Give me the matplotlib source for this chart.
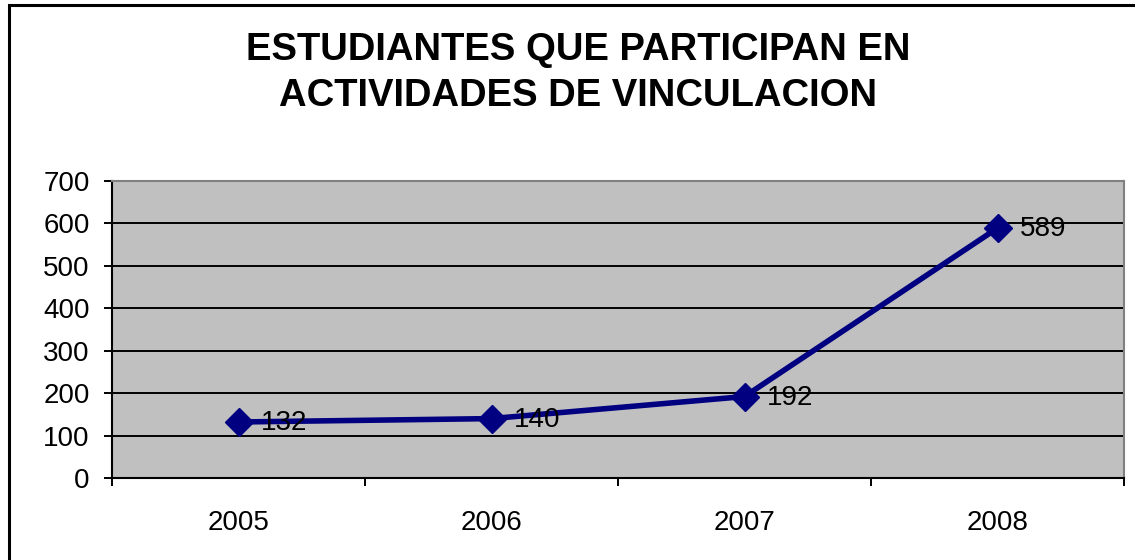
import matplotlib
matplotlib.use("Agg")
import matplotlib.pyplot as plt
from matplotlib.patches import Rectangle

years = ["2005", "2006", "2007", "2008"]
students = [132, 140, 192, 589]
y_ticks = [0, 100, 200, 300, 400, 500, 600, 700]
title = "ESTUDIANTES QUE PARTICIPAN EN\nACTIVIDADES DE VINCULACION"

plt.rcParams['font.family'] = ['Liberation Sans', 'DejaVu Sans']

fig = plt.figure(figsize=(11.35, 5.6), dpi=100)
fig.patch.set_facecolor("white")
# outer chart frame (left/top visible; right/bottom beyond the canvas)
fig.patches.append(Rectangle((9/1135, -0.05), 1.2, 1 - 5/560 + 0.05,
                             transform=fig.transFigure, fill=False,
                             edgecolor="black", linewidth=2.2))

ax = fig.add_axes([112/1135, 1 - 478/560, (1124-112)/1135, (478-181)/560])
ax.set_facecolor("#C0C0C0")
x = list(range(len(years)))
ax.plot(x, students, color="#000080", linewidth=4.0, marker="D",
        markersize=14, zorder=3, clip_on=False)
for xi, v in zip(x, students):
    ax.annotate(str(v), (xi, v), xytext=(16, -1), textcoords="offset points",
                ha="left", va="center", fontsize=20, color="black", zorder=4)

ax.set_xlim(-0.5, 3.5)
ax.set_ylim(0, 700)
ax.set_yticks(y_ticks)
ax.set_yticklabels([str(t) for t in y_ticks], fontsize=20)
ax.yaxis.grid(True, color="black", linewidth=1.4)
ax.set_axisbelow(True)
ax.set_xticks(x)
ax.set_xticklabels(years, fontsize=20)
ax.set_xticks([-0.5, 0.5, 1.5, 2.5, 3.5], minor=True)
ax.tick_params(axis="x", which="major", length=0, pad=23)
ax.tick_params(axis="x", which="minor", length=6, width=1.4, direction="out")
ax.tick_params(axis="y", length=6, width=1.4, pad=10, direction="out")
for s in ["top", "right"]:
    ax.spines[s].set_color("#808080")
    ax.spines[s].set_linewidth(1.5)
for s in ["left", "bottom"]:
    ax.spines[s].set_color("black")
    ax.spines[s].set_linewidth(1.5)

fig.text(578/1135, 1 - 73/560, title, ha="center", va="center",
         fontsize=27.5, fontweight="bold", linespacing=1.33)

fig.savefig("out.png", dpi=100)
